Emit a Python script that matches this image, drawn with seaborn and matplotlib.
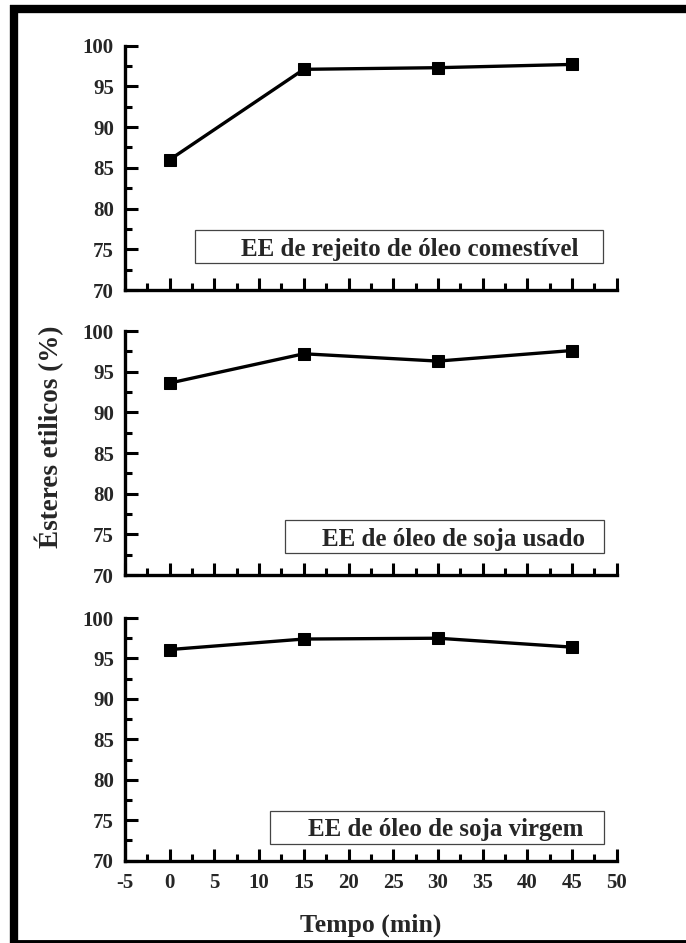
import matplotlib
matplotlib.use("Agg")
import matplotlib.pyplot as plt
from matplotlib.patches import Rectangle
from matplotlib.lines import Line2D
from matplotlib.ticker import MultipleLocator
import pandas as pd
import seaborn as sns

# Reaction time (min) and ethyl ester content (%) for each feedstock
tempo = [0, 15, 30, 45]
ee_rejeito = [86.0, 97.1, 97.3, 97.7]
ee_soja_usado = [93.6, 97.2, 96.3, 97.6]
ee_soja_virgem = [96.1, 97.4, 97.5, 96.4]

series_labels = [
    "EE de rejeito de óleo comestível",
    "EE de óleo de soja usado",
    "EE de óleo de soja virgem",
]
series_values = [ee_rejeito, ee_soja_usado, ee_soja_virgem]

x_ticks = [-5, 0, 5, 10, 15, 20, 25, 30, 35, 40, 45, 50]
y_ticks = [70, 75, 80, 85, 90, 95, 100]

sns.set_theme(style="ticks")
plt.rcParams["font.family"] = ["Liberation Serif", "DejaVu Serif"]
plt.rcParams["font.weight"] = "bold"
plt.rcParams["axes.unicode_minus"] = False

W, H = 686, 943
fig = plt.figure(figsize=(W / 100, H / 100), dpi=100)


def fx(px):
    return px / W


def fy(py):
    return 1 - py / H


# panel extents in pixels: (top, bottom)
left_px, right_px = 125, 616.7
panels_px = [(45.7, 290.0), (331.0, 575.0), (618.0, 860.7)]

# label boxes in axes fraction: (x0, x1, y0, y1, text_x)
boxes = [
    (0.1418, 0.9717, 0.109, 0.246, 0.235),
    (0.3254, 0.9736, 0.090, 0.225, 0.400),
    (0.2949, 0.9736, 0.069, 0.205, 0.372),
]

axes = []
for i, ((top, bot), label, vals, box) in enumerate(
    zip(panels_px, series_labels, series_values, boxes)
):
    ax = fig.add_axes([fx(left_px), fy(bot), fx(right_px - left_px), (bot - top) / H])
    df = pd.DataFrame({"Tempo": tempo, "EE": vals})
    sns.lineplot(
        data=df, x="Tempo", y="EE", ax=ax, color="black", linewidth=2.4,
        marker="s", markersize=8, markeredgecolor="black", markerfacecolor="black",
    )
    ax.set_xlim(-5, 50)
    ax.set_ylim(70, 100)
    ax.set_xticks(x_ticks)
    ax.set_yticks(y_ticks)
    ax.xaxis.set_minor_locator(MultipleLocator(2.5))
    ax.yaxis.set_minor_locator(MultipleLocator(2.5))
    ax.tick_params(axis="both", which="major", direction="in", length=9, width=2.2,
                   labelsize=15, color="black")
    ax.tick_params(axis="both", which="minor", direction="in", length=5, width=2.2,
                   color="black")
    ax.tick_params(axis="x", which="major", pad=9)
    ax.tick_params(axis="y", which="major", pad=8)
    for lab in ax.get_xticklabels() + ax.get_yticklabels():
        lab.set_fontweight("bold")
    sns.despine(ax=ax)
    for s in ("left", "bottom"):
        ax.spines[s].set_linewidth(2.4)
        ax.spines[s].set_color("black")
    ax.set_ylabel("")
    ax.set_xlabel("")
    if i < 2:
        ax.tick_params(axis="x", labelbottom=False)

    x0, x1, y0, y1, tx = box
    ax.add_patch(Rectangle((x0, y0), x1 - x0, y1 - y0, transform=ax.transAxes,
                           facecolor="white", edgecolor="#444444", linewidth=0.9,
                           zorder=3))
    ax.text(tx, (y0 + y1) / 2 - 0.01, label, transform=ax.transAxes, ha="left",
            va="center", fontsize=18, fontweight="bold", zorder=4)
    axes.append(ax)

axes[-1].set_xlabel("Tempo (min)", fontsize=18.5, fontweight="bold", labelpad=15)

fig.text(fx(49), fy(437), "Ésteres etilicos (%)", rotation=90, ha="center",
         va="center", fontsize=19.5, fontweight="bold")

# frame around the figure (top, left, bottom)
fig.add_artist(Line2D([fx(10), 1], [fy(9), fy(9)], color="black", linewidth=6,
                      transform=fig.transFigure, solid_capstyle="butt"))
fig.add_artist(Line2D([fx(14), fx(14)], [fy(5), 0], color="black", linewidth=6,
                      transform=fig.transFigure, solid_capstyle="butt"))
fig.add_artist(Line2D([fx(10), 1], [fy(941.5), fy(941.5)], color="black",
                      linewidth=3.5, transform=fig.transFigure,
                      solid_capstyle="butt"))

fig.savefig("out.png", dpi=100)
